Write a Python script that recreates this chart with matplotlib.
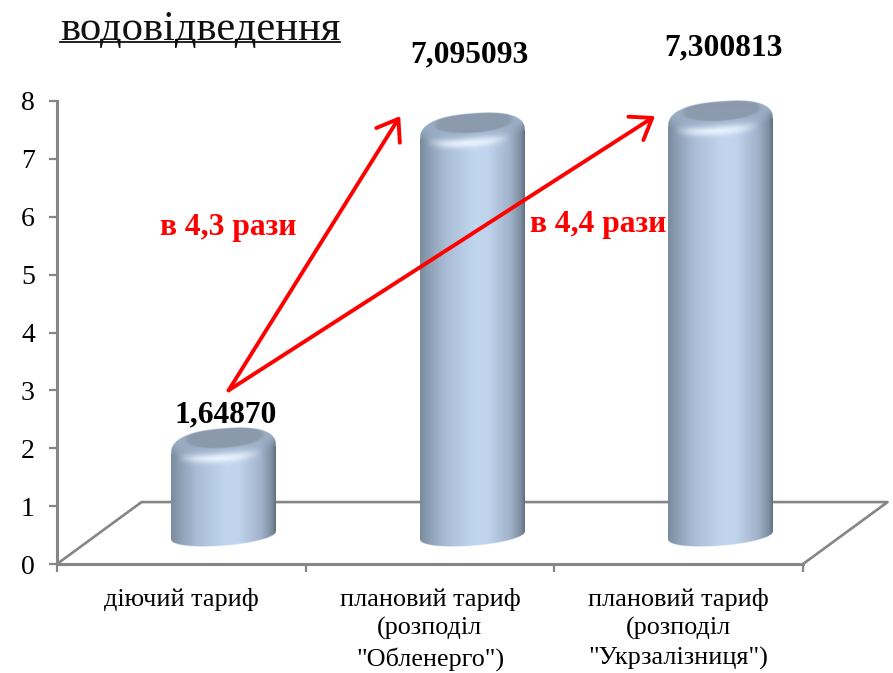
import numpy as np
import matplotlib
matplotlib.use('Agg')
import matplotlib.pyplot as plt

plt.rcParams['font.family'] = ['Liberation Serif', 'DejaVu Serif']

# данные
categories = ['діючий тариф', 'плановий тариф\n(розподіл\n"Обленерго")', 'плановий тариф\n(розподіл\n"Укрзалізниця")']
values = [1.64870, 7.095093, 7.300813]
value_labels = ['1,64870', '7,095093', '7,300813']
y_ticks = [0, 1, 2, 3, 4, 5, 6, 7, 8]
title = 'водовідведення'
ratio_labels = ['в 4,3 рази', 'в 4,4 рази']

GRAY = '#868686'
PX_Y = 1 / 57.9   # один пиксель в единицах оси y

fig = plt.figure(figsize=(8.93, 6.73), dpi=100)
ax = fig.add_axes([57 / 893, 1 - 564 / 673, 746 / 893, 463 / 673])
ax.patch.set_alpha(0)


def lerp(c1, c2, t):
    return c1 + (c2 - c1) * t[..., None]


def rgb_of(c):
    return np.array(matplotlib.colors.to_rgb(c))


def cylinder(ax, cx, value, half_w=0.211):
    # цилиндр с градиентом: считаем картинку и кладём её в координаты данных
    yc_top = value + 0.33
    yc_bot = 0.48
    b_top = 21 * PX_Y
    b_bot = 10 * PX_Y
    tilt = 4 * PX_Y
    y0 = yc_bot - b_bot - 0.15
    y1 = yc_top + b_top + 0.15
    nx = 315
    ny = int((y1 - y0) / PX_Y * 3)
    xs = np.linspace(-1, 1, nx)
    ys = np.linspace(y0, y1, ny)
    u, y = np.meshgrid(xs, ys)

    # боковая поверхность
    stops = [-1, -0.85, -0.5, 0.05, 0.3, 0.72, 0.93, 1]
    colors = ['#7a8b9e', '#8b9db2', '#a9bdd6', '#c1d6ef', '#bfd3ec', '#a0b3ca', '#7c8c9f', '#5f6e7f']
    rgb_stops = np.array([rgb_of(c) for c in colors])
    rgb = np.dstack([np.interp(u, stops, rgb_stops[:, i]) for i in range(3)])

    # скос сверху и блик
    root = np.sqrt(np.clip(1 - u ** 2, 0, 1))
    r = (y - (yc_top + tilt * u - 9 * PX_Y * root)) / PX_Y
    rim = np.clip(r / 13, 0, 1)
    rgb = np.where((r > 0)[..., None], lerp(rgb, rgb_of('#9aacc2'), rim), rgb)
    hl = np.exp(-(r / 4.5) ** 2) * np.clip(1 - ((u + 0.08) / 0.8) ** 2, 0, 1)
    rgb = lerp(rgb, rgb_of('#eaf3fc'), 0.95 * hl)

    # плоская верхушка: сверху сливается с контуром
    ex = (u - 0.02) / 0.74
    dy = y - (yc_top + 11 * PX_Y + tilt * 0.9 * u)
    ey = np.where(dy > 0, dy / (16 * PX_Y), dy / (10 * PX_Y))
    dist = np.sqrt(ex ** 2 + ey ** 2)
    flat = np.clip((1.05 - dist) / 0.14, 0, 1)
    rgb = lerp(rgb, rgb_of('#8b9aad'), flat)

    # маска формы: верх суперэллипс, низ эллипс
    top = yc_top + tilt * u + b_top * np.clip(1 - np.abs(u) ** 2.5, 0, 1) ** (1 / 2.5)
    bot = yc_bot + tilt * u - b_bot * root
    alpha = np.clip((top - y) / PX_Y, 0, 1) * np.clip((y - bot) / PX_Y, 0, 1)
    img = np.dstack([rgb, alpha])
    ax.imshow(img, extent=[cx - half_w, cx + half_w, y0, y1], origin='lower',
              aspect='auto', zorder=3, clip_on=False, interpolation='antialiased')


# пол
floor_x = [0, 0.34, 3.34, 3]
floor_y = [0, 1.07, 1.07, 0]
ax.plot(floor_x, floor_y, color=GRAY, lw=1.9, zorder=1, clip_on=False)

for i, v in enumerate(values):
    cylinder(ax, i + 0.67, v)

ax.set_xlim(0, 3)
ax.set_ylim(0, 8)

# оси
for s in ['top', 'right']:
    ax.spines[s].set_visible(False)
for s in ['left', 'bottom']:
    ax.spines[s].set_color(GRAY)
    ax.spines[s].set_linewidth(2.2)
ax.set_yticks(y_ticks)
ax.tick_params(axis='y', labelsize=20, color=GRAY, width=1.6, length=6, pad=10)
ax.set_xticks([0, 1, 2, 3])
ax.set_xticklabels([])
ax.tick_params(axis='x', which='major', color=GRAY, width=1.6, length=6)
ax.set_xticks([0.5, 1.5, 2.5], minor=True)
ax.set_xticklabels(categories, minor=True, fontsize=18.8, linespacing=1.37)
ax.tick_params(axis='x', which='minor', length=0, pad=17)

# подписи значений
label_x = [0.68, 1.66, 2.68]
label_y = [2.58, 8.79, 8.91]
for x, y, t in zip(label_x, label_y, value_labels):
    ax.text(x, y, t, ha='center', va='center', fontsize=22.7, fontweight='bold', color='black', zorder=6)

# стрелки
start = (0.69, 3.0)
for tip in [(1.38, 7.74), (2.405, 7.74)]:
    ax.annotate('', xy=tip, xytext=start, zorder=5, annotation_clip=False,
                arrowprops=dict(arrowstyle='->,head_length=0.7,head_width=0.5', color='#ff0000',
                                lw=2.8, shrinkA=0, shrinkB=0, mutation_scale=20))

ax.text(0.69, 5.81, ratio_labels[0], color='#ff0000', fontsize=22.7, fontweight='bold', ha='center', va='center', zorder=6)
ax.text(2.175, 5.87, ratio_labels[1], color='#ff0000', fontsize=22.7, fontweight='bold', ha='center', va='center', zorder=6)

# заголовок с подчёркиванием
fig.text(60 / 893, 1 - 40 / 673, title, fontsize=30.7, ha='left', va='baseline', color='#111111')
fig.add_artist(plt.Line2D([60 / 893, 340 / 893], [1 - 42 / 673, 1 - 42 / 673], color='#111111', lw=1.3))

fig.savefig('out.png', dpi=100)
